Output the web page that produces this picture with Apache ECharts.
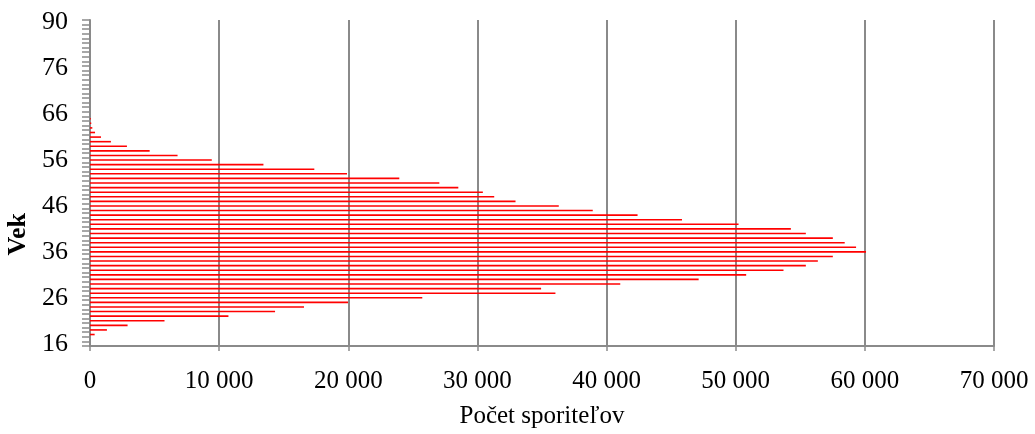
<!DOCTYPE html>
<html>
<head>
<meta charset="utf-8">
<script src="https://cdn.jsdelivr.net/npm/echarts@6/dist/echarts.min.js"></script>
<style>
html,body{margin:0;padding:0;background:#fff;}
#chart{width:1035px;height:434px;}
</style>
</head>
<body>
<div id="chart"></div>
<script>
// Age categories (bottom to top)
const ages = ['16','17','18','19','20','21','22','23','24','25','26','27','28','29','30','31','32','33','34','35',
  '36','37','38','39','40','41','42','43','44','45','46','47','48','49','50','51','52','53','54','55',
  '56','57','58','59','60','61','62','63','64','65','66','67','68','69','70','71','72','73','74','75',
  '76','77','78','79','80','81','82','83','84','85','90'];
// Number of savers per age
const savers = [0,0,360,1310,2910,5770,10720,14330,16570,19980,
  25730,36040,34930,41060,47130,50810,53700,55430,56360,57520,
  60090,59320,58440,57520,55430,54270,50220,45840,42400,38930,
  36300,32950,31300,30420,28520,27050,23950,19900,17370,13430,
  9430,6780,4620,2860,1620,850,390,180,100,60,
  0,0,0,0,0,0,0,0,0,0,
  0,0,0,0,0,0,0,0,0,0,0];
const xTitle = 'Počet sporiteľov';
const yTitle = 'Vek';

const FONT = "'Liberation Serif','Times New Roman',serif";
const GREY = '#8a8a8a';
const chart = echarts.init(document.getElementById('chart'));
chart.setOption({
  animation: false,
  grid: {left: 90, right: 41, top: 20, bottom: 86},
  xAxis: {
    type: 'value', min: 0, max: 70000, interval: 10000,
    name: xTitle, nameLocation: 'middle', nameGap: 58,
    nameTextStyle: {fontFamily: FONT, fontSize: 25, color: '#000'},
    axisLine: {show: true, lineStyle: {color: GREY, width: 2}},
    axisTick: {show: true, length: 5, lineStyle: {color: GREY, width: 1.5}},
    axisLabel: {fontFamily: FONT, fontSize: 25, color: '#000', margin: 23,
      formatter: v => String(v).replace(/\B(?=(\d{3})+(?!\d))/g, ' ')},
    splitLine: {show: true, lineStyle: {color: GREY, width: 2}}
  },
  yAxis: {
    type: 'category', data: ages,
    axisLine: {show: true, lineStyle: {color: GREY, width: 2}},
    axisTick: {show: true, interval: 0, length: 8, lineStyle: {color: GREY, width: 1.5}},
    axisLabel: {interval: 9, fontFamily: FONT, fontSize: 26, color: '#000', margin: 22},
    splitLine: {show: false}
  },
  graphic: [{
    type: 'text', left: 5, top: 213, rotation: Math.PI / 2,
    style: {text: yTitle, font: 'bold 26px ' + FONT, fill: '#000'}
  }],
  series: [{
    type: 'bar', data: savers, barWidth: 1.6,
    itemStyle: {color: '#ff0000'}
  }]
});
</script>
</body>
</html>
